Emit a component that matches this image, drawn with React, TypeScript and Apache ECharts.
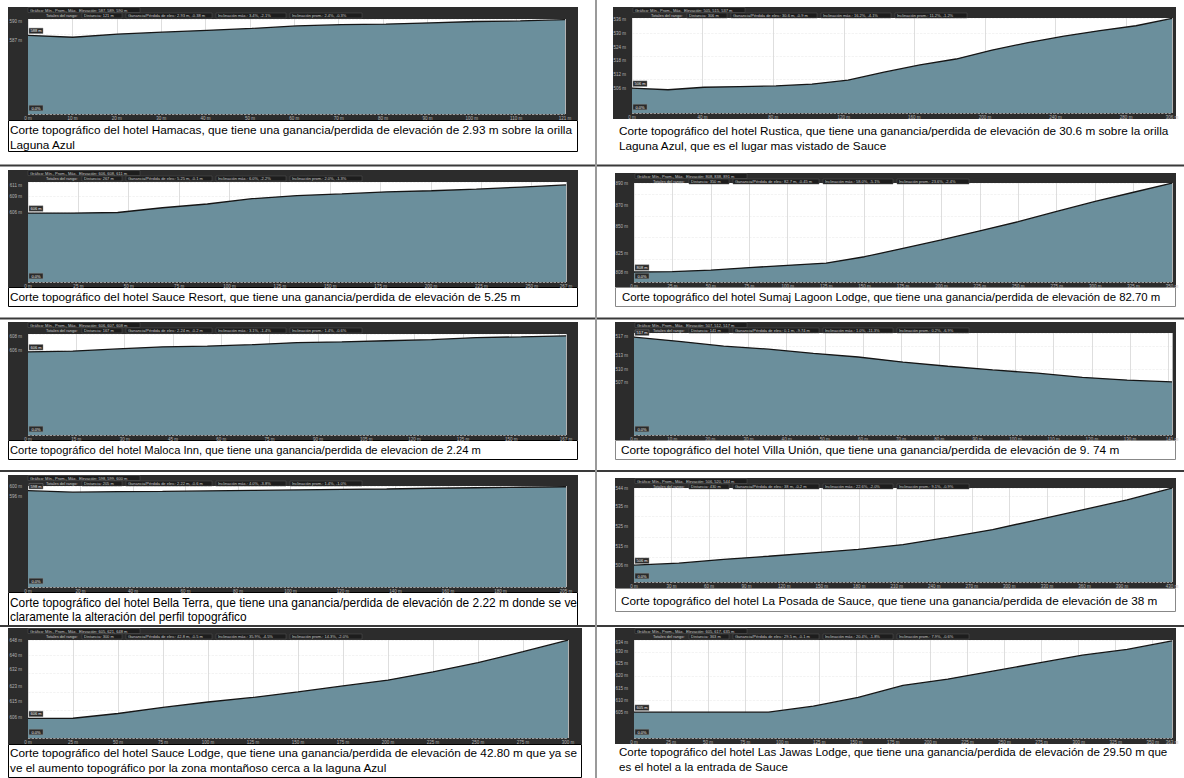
import React, { useEffect, useRef } from "react";
import * as echarts from "echarts";

// ---------- DATA (elevation in m, sampled evenly along each profile) ----------
const hamacasElev = [587.8, 587.5, 588.0, 588.3, 588.6, 588.9, 589.3, 589.5, 589.6, 589.8, 590.0, 590.1, 590.3];
const rusticaElev = [506.0, 505.3, 506.4, 506.7, 507.0, 507.8, 509.5, 513.0, 516.2, 518.8, 522.7, 526.0, 528.8, 531.3, 533.4, 536.6];
const sauceResortElev = [605.9, 605.9, 606.0, 606.9, 607.6, 608.6, 609.2, 609.5, 609.9, 610.1, 610.4, 610.8, 611.2];
const sumajElev = [808.0, 808.4, 809.8, 812.1, 814.2, 816.3, 822.2, 830.0, 837.8, 846.3, 854.8, 864.4, 873.6, 882.2, 890.7];
const malocaElev = [605.8, 605.9, 606.2, 606.5, 606.6, 606.8, 607.1, 607.2, 607.35, 607.5, 607.8, 607.9, 608.05];
const villaUnionElev = [516.9, 516.0, 514.95, 514.3, 513.4, 512.6, 511.5, 510.6, 509.8, 509.1, 508.2, 507.6, 507.2];
const bellaTerraElev = [598.4, 597.8, 598.0, 598.1, 598.3, 598.5, 598.7, 598.9, 599.1, 599.4, 599.6, 599.8, 600.0];
const posadaElev = [506.0, 507.0, 508.9, 510.4, 512.1, 513.8, 516.2, 519.7, 523.6, 528.4, 533.3, 538.2, 544.0];
const sauceLodgeElev = [605.5, 605.6, 608.2, 611.5, 614.5, 617.0, 620.0, 623.3, 626.5, 631.0, 636.0, 642.0, 648.3];
const jawasElev = [605.0, 605.0, 605.0, 605.0, 607.5, 611.1, 616.1, 618.7, 622.0, 625.3, 628.6, 631.0, 634.5];

// distance tick labels (m); last value = total distance
const hamacasXTicks = [0, 10, 20, 30, 40, 50, 60, 70, 80, 90, 100, 110, 121];
const rusticaXTicks = [0, 40, 80, 120, 160, 200, 240, 280, 306];
const sauceResortXTicks = [0, 25, 50, 75, 100, 125, 150, 175, 200, 225, 250, 267];
const sumajXTicks = [0, 25, 50, 75, 100, 125, 150, 175, 200, 225, 250, 275, 300, 325, 350];
const malocaXTicks = [0, 15, 30, 45, 60, 75, 90, 105, 120, 135, 150, 167];
const villaUnionXTicks = [0, 10, 20, 30, 40, 50, 60, 70, 80, 90, 100, 110, 120, 130, 141];
const bellaTerraXTicks = [0, 20, 40, 60, 80, 100, 120, 140, 160, 180, 205];
const posadaXTicks = [0, 30, 60, 90, 120, 150, 180, 210, 240, 270, 300, 330, 360, 390, 430];
const sauceLodgeXTicks = [0, 25, 50, 75, 100, 125, 150, 175, 200, 225, 250, 275, 300];
const jawasXTicks = [0, 25, 50, 75, 100, 125, 150, 175, 200, 225, 250, 275, 300, 325, 350, 363];

// elevation tick labels (m)
const hamacasYTicks = [587, 590];
const rusticaYTicks = [506, 512, 518, 524, 530, 536];
const sauceResortYTicks = [606, 609, 611];
const sumajYTicks = [808, 825, 850, 870, 890];
const malocaYTicks = [606, 608];
const villaUnionYTicks = [507, 510, 513, 517];
const bellaTerraYTicks = [596, 600];
const posadaYTicks = [506, 515, 525, 535, 544];
const sauceLodgeYTicks = [606, 615, 623, 632, 640, 648];
const jawasYTicks = [605, 610, 615, 620, 625, 630, 634];

// elevation axis ranges (m)
const hamacasYRange = [575.3, 590.4];
const rusticaYRange = [495.1, 536.8];
const sauceResortYRange = [592.9, 611.75];
const sumajYRange = [798.7, 890.8];
const malocaYRange = [594.1, 608.3];
const villaUnionYRange = [495.7, 517.8];
const bellaTerraYRange = [559.6, 600.3];
const posadaYRange = [497.7, 544.1];
const sauceLodgeYRange = [594.8, 648.4];
const jawasYRange = [594.3, 634.9];

// header texts
const hamacasHeader = ["587, 589, 590 m", "121 m", "2.93 m, -0.38 m", "3.4%, -2.1%", "2.4%, -0.3%"];
const rusticaHeader = ["505, 515, 537 m", "306 m", "30.6 m, -0.9 m", "16.2%, -4.1%", "11.2%, -1.2%"];
const sauceResortHeader = ["606, 608, 611 m", "267 m", "5.25 m, -0.1 m", "6.0%, -2.2%", "2.0%, -1.3%"];
const sumajHeader = ["808, 838, 891 m", "350 m", "82.7 m, -0.45 m", "58.0%, -5.1%", "23.6%, -2.4%"];
const malocaHeader = ["606, 607, 608 m", "167 m", "2.24 m, -0.2 m", "3.1%, -1.4%", "1.4%, -0.6%"];
const villaUnionHeader = ["507, 512, 517 m", "141 m", "0.1 m, -9.74 m", "1.0%, -11.3%", "0.2%, -6.9%"];
const bellaTerraHeader = ["598, 599, 600 m", "205 m", "2.22 m, -0.6 m", "4.0%, -3.8%", "1.4%, -1.0%"];
const posadaHeader = ["506, 520, 544 m", "430 m", "38 m, -0.2 m", "22.6%, -2.0%", "9.1%, -0.9%"];
const sauceLodgeHeader = ["605, 621, 648 m", "300 m", "42.8 m, -0.5 m", "35.9%, -4.5%", "14.3%, -2.0%"];
const jawasHeader = ["605, 617, 635 m", "363 m", "29.5 m, -0.1 m", "20.4%, -1.8%", "7.9%, -0.6%"];

// captions
const hamacasCaption = ["Corte topográfico del hotel Hamacas, que tiene una ganancia/perdida de elevación de 2.93 m sobre la orilla", "Laguna Azul"];
const rusticaCaption = ["Corte topográfico del hotel Rustica, que tiene una ganancia/perdida de elevación de 30.6 m sobre la orilla", "Laguna Azul, que es el lugar mas vistado de Sauce"];
const sauceResortCaption = ["Corte topográfico del hotel Sauce Resort, que tiene una ganancia/perdida de elevación de 5.25 m"];
const sumajCaption = ["Corte topográfico del hotel Sumaj Lagoon Lodge, que tiene una ganancia/perdida de elevación de 82.70 m"];
const malocaCaption = ["Corte topográfico del hotel Maloca Inn, que tiene una ganancia/perdida de elevacion de 2.24 m"];
const villaUnionCaption = ["Corte topográfico del hotel Villa Unión, que tiene una ganancia/perdida de elevación de 9. 74 m"];
const bellaTerraCaption = ["Corte topográfico del hotel Bella Terra, que tiene una ganancia/perdida de elevación de 2.22 m donde se ve", "claramente la alteración del perfil topográfico"];
const posadaCaption = ["Corte topográfico del hotel La Posada de Sauce, que tiene una ganancia/perdida de elevación de 38 m"];
const sauceLodgeCaption = ["Corte topográfico del hotel Sauce Lodge, que tiene una ganancia/perdida de elevación de 42.80 m que ya se", "ve el aumento topográfico por la zona montañoso cerca a la laguna Azul"];
const jawasCaption = ["Corte topográfico del hotel Las Jawas Lodge, que tiene una ganancia/perdida de elevación de 29.50 m que", "es el hotel a la entrada de Sauce"];

const panels = [
  { elev: hamacasElev, xTicks: hamacasXTicks, yTicks: hamacasYTicks, yRange: hamacasYRange, header: hamacasHeader, caption: hamacasCaption },
  { elev: rusticaElev, xTicks: rusticaXTicks, yTicks: rusticaYTicks, yRange: rusticaYRange, header: rusticaHeader, caption: rusticaCaption },
  { elev: sauceResortElev, xTicks: sauceResortXTicks, yTicks: sauceResortYTicks, yRange: sauceResortYRange, header: sauceResortHeader, caption: sauceResortCaption },
  { elev: sumajElev, xTicks: sumajXTicks, yTicks: sumajYTicks, yRange: sumajYRange, header: sumajHeader, caption: sumajCaption },
  { elev: malocaElev, xTicks: malocaXTicks, yTicks: malocaYTicks, yRange: malocaYRange, header: malocaHeader, caption: malocaCaption },
  { elev: villaUnionElev, xTicks: villaUnionXTicks, yTicks: villaUnionYTicks, yRange: villaUnionYRange, header: villaUnionHeader, caption: villaUnionCaption },
  { elev: bellaTerraElev, xTicks: bellaTerraXTicks, yTicks: bellaTerraYTicks, yRange: bellaTerraYRange, header: bellaTerraHeader, caption: bellaTerraCaption },
  { elev: posadaElev, xTicks: posadaXTicks, yTicks: posadaYTicks, yRange: posadaYRange, header: posadaHeader, caption: posadaCaption },
  { elev: sauceLodgeElev, xTicks: sauceLodgeXTicks, yTicks: sauceLodgeYTicks, yRange: sauceLodgeYRange, header: sauceLodgeHeader, caption: sauceLodgeCaption },
  { elev: jawasElev, xTicks: jawasXTicks, yTicks: jawasYTicks, yRange: jawasYRange, header: jawasHeader, caption: jawasCaption },
];

// ---------- LAYOUT ----------
type Layout = {
  box: number[];
  plot: number[];
  cap: number[] | null;
  capStroke: string;
  capLines: number[];
  capX: number;
  capSize: number;
};
const layouts: Layout[] = [
  { box: [8, 7, 570, 113], plot: [28, 19, 537, 95], cap: [8, 120, 570, 32], capStroke: "#000", capLines: [130, 145], capX: 10, capSize: 11.8 },
  { box: [613, 7, 563, 112], plot: [632, 18, 540, 95], cap: null, capStroke: "#000", capLines: [130, 145], capX: 619, capSize: 11.75 },
  { box: [8, 170, 570, 117], plot: [28, 182, 538, 100], cap: [8, 287, 570, 20], capStroke: "#000", capLines: [297], capX: 10, capSize: 11.8 },
  { box: [615, 173, 561, 114], plot: [634, 183, 538, 99], cap: [615, 287, 561, 20], capStroke: "#888", capLines: [297], capX: 622, capSize: 11.4 },
  { box: [8, 322, 570, 118], plot: [28, 334, 538, 101], cap: [8, 440, 570, 20], capStroke: "#000", capLines: [450], capX: 10, capSize: 11.2 },
  { box: [615, 322, 561, 118], plot: [634, 333, 538, 102], cap: [615, 440, 561, 20], capStroke: "#888", capLines: [450], capX: 621, capSize: 11.8 },
  { box: [8, 475, 570, 117], plot: [28, 486, 538, 101], cap: [8, 592, 570, 34], capStroke: "#000", capLines: [603, 617], capX: 10, capSize: 11.9 },
  { box: [615, 478, 561, 110], plot: [634, 488, 538, 94], cap: [615, 588, 561, 24], capStroke: "#888", capLines: [600], capX: 621, capSize: 11.75 },
  { box: [8, 628, 574, 116], plot: [28, 640, 540, 98], cap: [8, 744, 574, 34], capStroke: "#000", capLines: [752, 767], capX: 10, capSize: 11.75 },
  { box: [615, 628, 561, 116], plot: [634, 640, 538, 98], cap: null, capStroke: "#000", capLines: [752, 767], capX: 619, capSize: 11.55 },
];

// header sub-box offsets inside the dark frame
const headerSegs = [
  { x: 74, w: 40 },
  { x: 118, w: 86 },
  { x: 208, w: 70 },
  { x: 282, w: 72 },
];

const FILL = "#6b8f9c";
const DARK = "#2c2c2c";
const SMALL_FONT = '4px "Liberation Sans"';

function buildOption() {
  const grid: any[] = [];
  const xAxis: any[] = [];
  const yAxis: any[] = [];
  const series: any[] = [];
  const graphic: any[] = [];

  // page separators
  [165.5, 318.5, 471, 626].forEach((y) => {
    graphic.push({ type: "line", z: 5, shape: { x1: 0, y1: y, x2: 1184, y2: y }, style: { stroke: "#3a3a3a", lineWidth: 2 } });
  });
  graphic.push({ type: "line", z: 5, shape: { x1: 596, y1: 0, x2: 596, y2: 778 }, style: { stroke: "#9a9a9a", lineWidth: 2 } });

  panels.forEach((p, i) => {
    const L = layouts[i];
    const dist = p.xTicks[p.xTicks.length - 1];
    const [bx, by, bw, bh] = L.box;

    grid.push({
      left: L.plot[0], top: L.plot[1], width: L.plot[2], height: L.plot[3],
      show: true, backgroundColor: "#ffffff", borderWidth: 0,
    });
    xAxis.push({
      type: "value", gridIndex: i, min: 0, max: dist, interval: p.xTicks[1],
      axisLine: { show: false }, axisTick: { show: false },
      splitLine: { show: true, lineStyle: { color: "#d6d6d6", width: 0.8 } },
      axisLabel: {
        customValues: p.xTicks, formatter: (v: number) => `${v} m`,
        fontSize: 4.5, color: "#b5b5b5", margin: 1.5, fontFamily: "Liberation Sans",
        showMinLabel: true, showMaxLabel: true,
      },
    });
    yAxis.push({
      type: "value", gridIndex: i, min: p.yRange[0], max: p.yRange[1],
      axisLine: { show: false }, axisTick: { show: false },
      splitLine: { show: true, lineStyle: { color: "#ebebeb", width: 0.6, type: "dashed" } },
      axisLabel: {
        customValues: p.yTicks, formatter: (v: number) => `${v} m`,
        fontSize: 4.5, color: "#b5b5b5", margin: 6, fontFamily: "Liberation Sans",
        showMinLabel: true, showMaxLabel: true,
      },
    });
    series.push({
      type: "line", xAxisIndex: i, yAxisIndex: i, z: 3,
      data: p.elev.map((e, k) => [(k * dist) / (p.elev.length - 1), e]),
      symbol: "none",
      lineStyle: { color: "#151515", width: 1.3 },
      areaStyle: { color: FILL, opacity: 1, origin: "start" },
      markPoint: {
        symbol: "rect", symbolSize: [14, 5.5], symbolOffset: [8, -4.5],
        itemStyle: { color: "#2a2a2a", borderColor: "#888", borderWidth: 0.4 },
        label: { show: true, position: "inside", fontSize: 4, color: "#eee", fontFamily: "Liberation Sans", formatter: (d: any) => d.name },
        data: [
          { name: `${Math.round(p.elev[0])} m`, coord: [0, p.elev[0]] },
          { name: "0.0%", coord: [0, p.yRange[0]], symbolOffset: [8, -6] },
        ],
      },
    });

    // dark frame
    graphic.push({ type: "rect", z: -10, shape: { x: bx, y: by, width: bw, height: bh }, style: { fill: DARK } });
    // header line 1
    graphic.push({ type: "rect", z: 1, shape: { x: bx + 20, y: by + 0.5, width: 112, height: 5 }, style: { fill: "#1d1d1d", stroke: "#565656", lineWidth: 0.5 } });
    graphic.push({ type: "text", z: 2, x: bx + 22, y: by + 3, style: { text: `Gráfico: Mín., Prom., Máx.  Elevación: ${p.header[0]}`, font: SMALL_FONT, fill: "#c8c8c8", verticalAlign: "middle" } });
    // header line 2
    graphic.push({ type: "text", z: 2, x: bx + 38, y: by + 8.5, style: { text: "Totales del rango:", font: SMALL_FONT, fill: "#c8c8c8", verticalAlign: "middle" } });
    const segTexts = [
      `Distancia: ${p.header[1]}`,
      `Ganancia/Pérdida de elev.: ${p.header[2]}`,
      `Inclinación máx.: ${p.header[3]}`,
      `Inclinación prom.: ${p.header[4]}`,
    ];
    headerSegs.forEach((s, k) => {
      graphic.push({ type: "rect", z: 1, shape: { x: bx + s.x, y: by + 6, width: s.w, height: 5 }, style: { fill: "#1d1d1d", stroke: "#565656", lineWidth: 0.5 } });
      graphic.push({ type: "text", z: 2, x: bx + s.x + 2, y: by + 8.5, style: { text: segTexts[k], font: SMALL_FONT, fill: "#c8c8c8", verticalAlign: "middle" } });
    });

    // caption
    if (L.cap) {
      graphic.push({ type: "rect", z: 0, shape: { x: L.cap[0] + 0.5, y: L.cap[1] + 0.5, width: L.cap[2] - 1, height: L.cap[3] - 1 }, style: { fill: "#fff", stroke: L.capStroke, lineWidth: 1 } });
    }
    p.caption.forEach((line, k) => {
      graphic.push({ type: "text", z: 2, x: L.capX, y: L.capLines[k], style: { text: line, font: `${L.capSize}px "Liberation Sans"`, fill: "#000", verticalAlign: "middle" } });
    });
  });

  return {
    animation: false,
    backgroundColor: "#ffffff",
    grid, xAxis, yAxis, series,
    graphic: { elements: graphic },
  };
}

export default function App() {
  const ref = useRef<HTMLDivElement>(null);
  useEffect(() => {
    if (!ref.current) return;
    const chart = echarts.init(ref.current, undefined, { renderer: "svg" });
    chart.setOption(buildOption() as any);
    return () => chart.dispose();
  }, []);
  return (
    <div
      ref={ref}
      style={{ position: "absolute", left: 0, top: 0, width: 1184, height: 778, background: "#fff" }}
    />
  );
}
